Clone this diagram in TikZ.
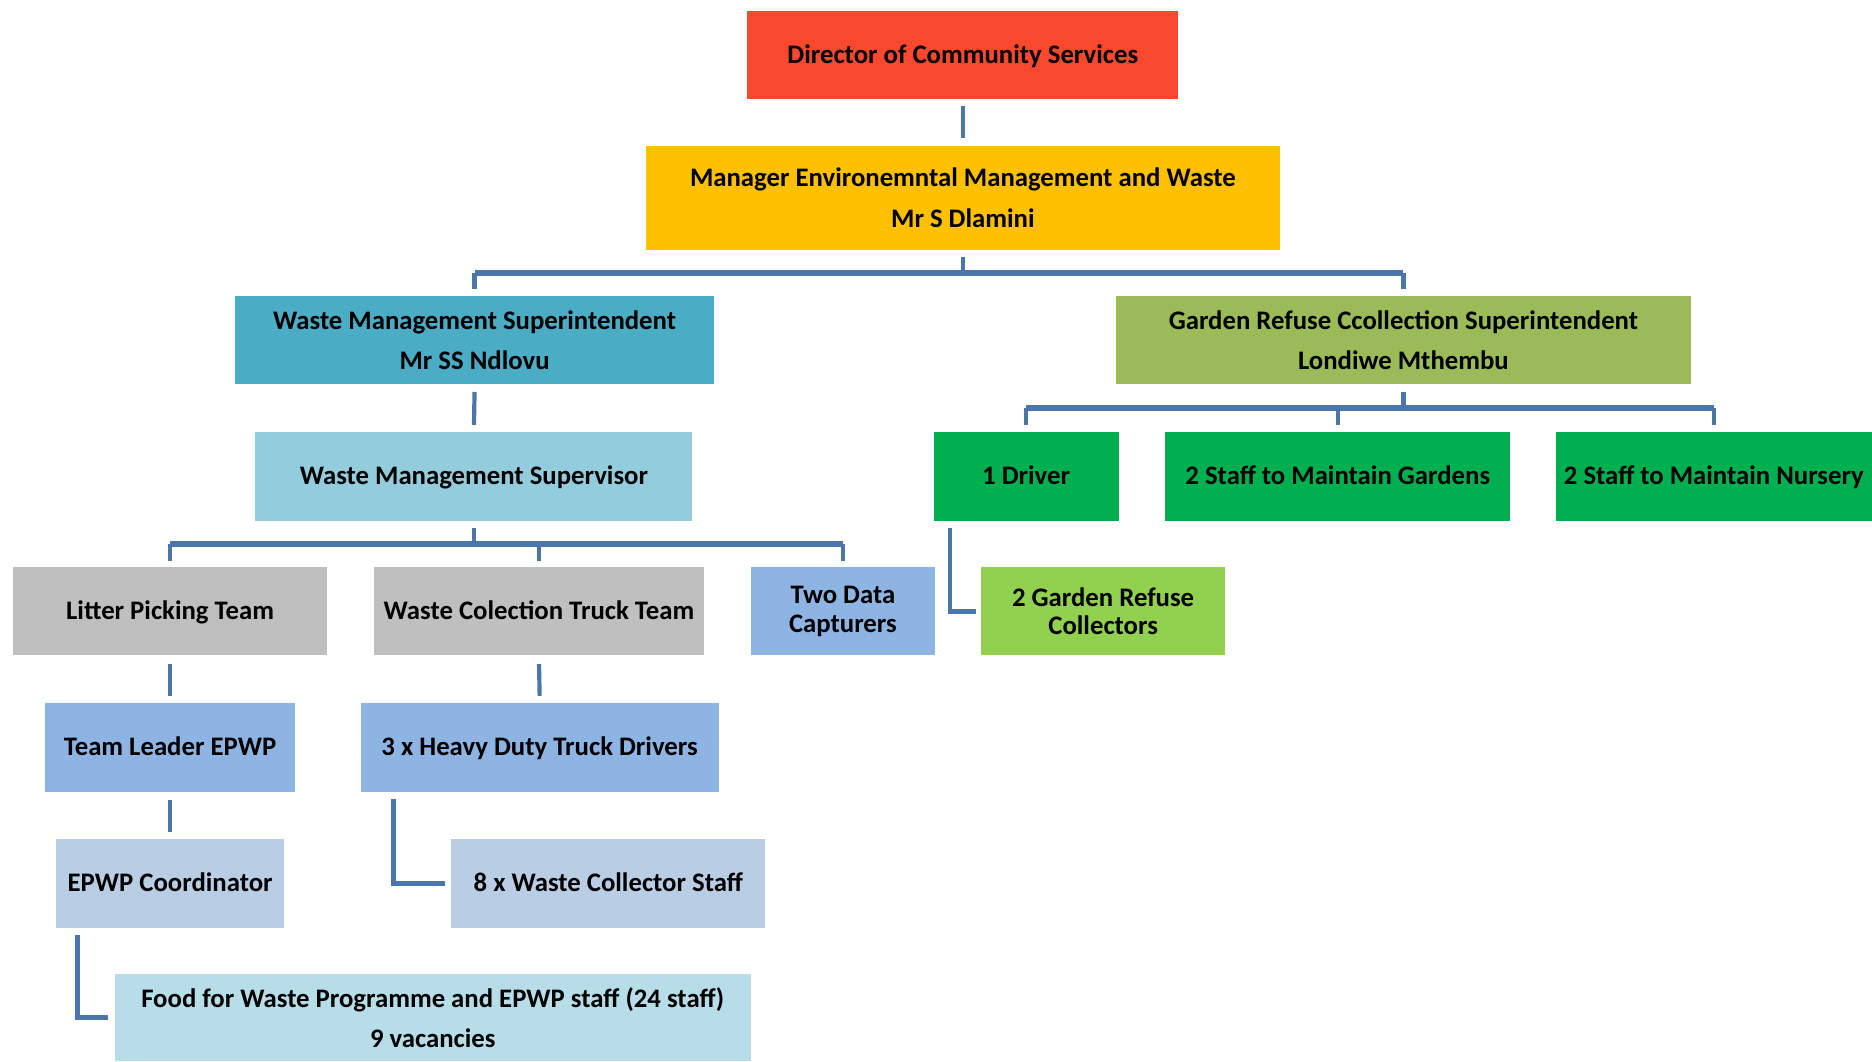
\documentclass[tikz,border=0pt]{standalone}
\usepackage{fontspec}
\setmainfont{Carlito}
\definecolor{lineblue}{RGB}{74,118,172}
\definecolor{cDir}{RGB}{248,73,46}
\definecolor{cMgr}{RGB}{255,192,0}
\definecolor{cWms}{RGB}{75,172,198}
\definecolor{cGrs}{RGB}{155,187,89}
\definecolor{cSup}{RGB}{147,205,221}
\definecolor{cGreen}{RGB}{0,176,80}
\definecolor{cLgreen}{RGB}{146,208,80}
\definecolor{cGrey}{RGB}{191,191,191}
\definecolor{cBlue}{RGB}{142,180,227}
\definecolor{cSteel}{RGB}{185,205,229}
\definecolor{cFood}{RGB}{183,221,232}
\tikzset{
  box/.style={draw=none, inner sep=0pt, align=center, text=black,
    font=\fontsize{22.4}{34}\selectfont\bfseries},
  one/.style={text height=14pt, text depth=0pt},
  tight/.style={font=\fontsize{22.4}{24}\selectfont\bfseries},
  conn/.style={draw=lineblue, line width=3.5pt},
  bus/.style={draw=lineblue, line width=5pt},
  elbow/.style={draw=lineblue, line width=4pt, line join=miter}
}
\begin{document}
\begin{tikzpicture}[x=1pt,y=-1pt]
\useasboundingbox (0,0) rectangle (1568,889);
% boxes
\node[box, one, fill=cDir, minimum width=361pt, minimum height=74pt] (dir) at (806.5,46) {Director of Community Services};
\node[box, fill=cMgr, minimum width=531pt, minimum height=87pt] (mgr) at (806.5,165.5) {Manager Environemntal Management and Waste\\Mr S Dlamini};
\node[box, fill=cWms, minimum width=401pt, minimum height=74pt] (wms) at (397.5,285) {Waste Management Superintendent\\Mr SS Ndlovu};
\node[box, fill=cGrs, minimum width=481pt, minimum height=74pt] (grs) at (1175.5,285) {Garden Refuse Ccollection Superintendent\\Londiwe Mthembu};
\node[box, one, fill=cSup, minimum width=366pt, minimum height=74pt] (sup) at (397,399) {Waste Management Supervisor};
\node[box, one, fill=cGreen, minimum width=155pt, minimum height=74pt] (drv) at (859.5,399) {1 Driver};
\node[box, one, fill=cGreen, minimum width=289pt, minimum height=74pt] (gar) at (1120.5,399) {2 Staff to Maintain Gardens};
\node[box, one, fill=cGreen, minimum width=265pt, minimum height=74pt] (nur) at (1435.5,399) {2 Staff to Maintain Nursery};
\node[box, tight, fill=cLgreen, minimum width=204pt, minimum height=74pt] (gcol) at (924,512) {2 Garden Refuse\\Collectors};
\node[box, one, fill=cGrey, minimum width=263pt, minimum height=74pt] (lit) at (142.5,512) {Litter Picking Team};
\node[box, one, fill=cGrey, minimum width=277pt, minimum height=74pt] (wct) at (451.5,512) {Waste Colection Truck Team};
\node[box, tight, fill=cBlue, minimum width=154pt, minimum height=74pt] (tdc) at (706,512) {Two Data\\Capturers};
\node[box, one, fill=cBlue, minimum width=209pt, minimum height=74pt] (tle) at (142.5,626) {Team Leader EPWP};
\node[box, one, fill=cBlue, minimum width=300pt, minimum height=74pt] (hdt) at (452,626) {3 x Heavy Duty Truck Drivers};
\node[box, one, fill=cSteel, minimum width=191pt, minimum height=74pt] (epc) at (142.5,740) {EPWP Coordinator};
\node[box, one, fill=cSteel, minimum width=263pt, minimum height=74pt] (wcs) at (509.5,740) {8 x Waste Collector Staff};
\node[box, fill=cFood, minimum width=533pt, minimum height=73pt] (food) at (362.5,852.5) {Food for Waste Programme and EPWP staff (24 staff)\\9 vacancies};
% bus junctions
\coordinate (jm) at (806.5,229);
\coordinate (jg) at (1175.5,342);
\coordinate (js) at (397,456);
% director -> manager
\draw[conn] ([yshift=-6pt]dir.south) -- ([yshift=6pt]mgr.north);
% manager bus
\draw[conn] ([yshift=-6pt]mgr.south) -- (jm);
\draw[bus] (wms.north |- jm) -- (grs.north |- jm);
\draw[conn] (wms.north |- jm) -- ([yshift=6pt]wms.north);
\draw[conn] (grs.north |- jm) -- ([yshift=6pt]grs.north);
% wms -> supervisor
\draw[conn] ([yshift=-6pt]wms.south) -- ([yshift=6pt]sup.north);
% garden bus
\draw[conn] ([yshift=-6pt]grs.south) -- (jg);
\draw[bus] (drv.north |- jg) -- (nur.north |- jg);
\draw[conn] (drv.north |- jg) -- ([yshift=6pt]drv.north);
\draw[conn] (gar.north |- jg) -- ([yshift=6pt]gar.north);
\draw[conn] (nur.north |- jg) -- ([yshift=6pt]nur.north);
% supervisor bus
\draw[conn] ([yshift=-6pt]sup.south) -- (js);
\draw[bus] (lit.north |- js) -- (tdc.north |- js);
\draw[conn] (lit.north |- js) -- ([yshift=5pt]lit.north);
\draw[conn] (wct.north |- js) -- ([yshift=5pt]wct.north);
\draw[conn] (tdc.north |- js) -- ([yshift=5pt]tdc.north);
% driver -> garden refuse collectors
\draw[elbow] ([xshift=14pt,yshift=-6pt]drv.south west) |- ([xshift=-4pt]gcol.west);
% litter -> team leader -> coordinator
\draw[conn] ([yshift=-7pt]lit.south) -- ([yshift=6pt]tle.north);
\draw[conn] ([yshift=-7pt]tle.south) -- ([yshift=6pt]epc.north);
% truck team -> drivers
\draw[conn] ([yshift=-7pt]wct.south) -- ([yshift=6pt]hdt.north);
% drivers -> collector staff
\draw[elbow] ([xshift=28pt,yshift=-6pt]hdt.south west) |- ([xshift=-5pt]wcs.west);
% coordinator -> food
\draw[elbow] ([xshift=18pt,yshift=-6pt]epc.south west) |- ([xshift=-5pt]food.west);
\end{tikzpicture}
\end{document}
